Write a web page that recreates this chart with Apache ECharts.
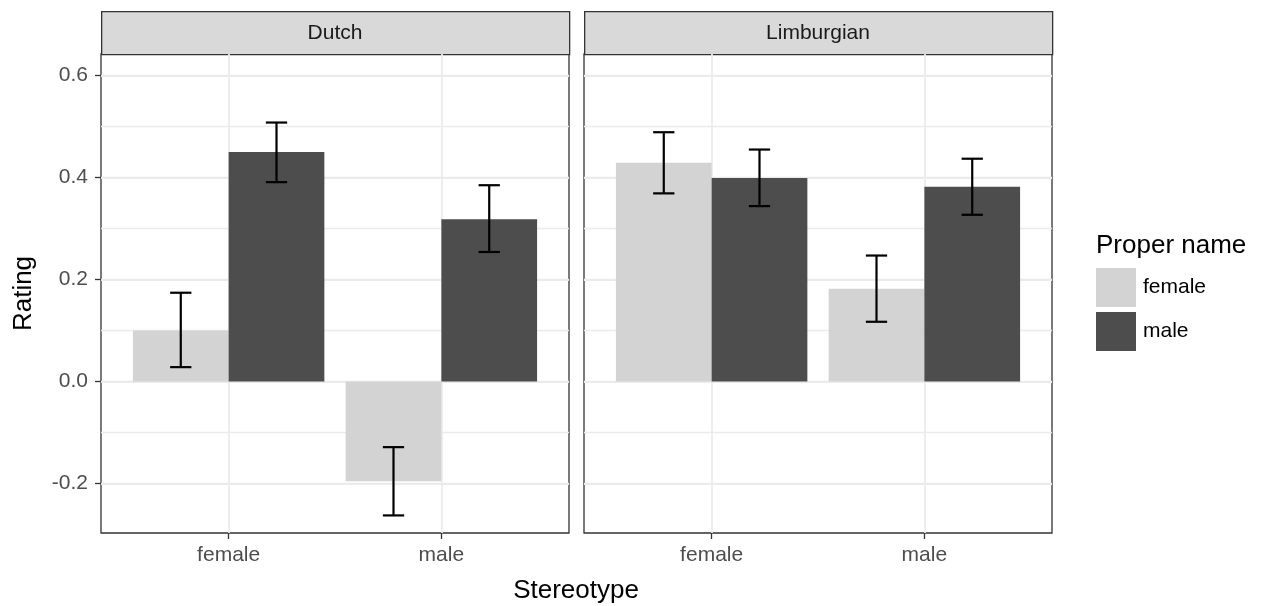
<!DOCTYPE html>
<html>
<head>
<meta charset="utf-8">
<script src="https://cdn.jsdelivr.net/npm/echarts@6/dist/echarts.min.js"></script>
<style>
  html, body { margin: 0; padding: 0; background: #fff; }
  #chart { width: 1263px; height: 606px; }
</style>
</head>
<body>
<div id="chart"></div>
<script>
const stereotypes = ['female', 'male'];
const dialects = ['Dutch', 'Limburgian'];
const nameGroups = ['female', 'male'];

// mean rating per stereotype (female, male)
const dutchFemaleName = [0.100, -0.196];
const dutchMaleName = [0.450, 0.318];
const limburgianFemaleName = [0.429, 0.182];
const limburgianMaleName = [0.399, 0.382];

// error bar ends
const dutchFemaleLow = [0.028, -0.263];
const dutchFemaleHigh = [0.174, -0.129];
const dutchMaleLow = [0.391, 0.254];
const dutchMaleHigh = [0.508, 0.385];
const limburgianFemaleLow = [0.369, 0.117];
const limburgianFemaleHigh = [0.489, 0.247];
const limburgianMaleLow = [0.344, 0.327];
const limburgianMaleHigh = [0.455, 0.437];

const yMajorTicks = [-0.2, 0, 0.2, 0.4, 0.6];
const yMinorTicks = [-0.1, 0.1, 0.3, 0.5];

const panels = [
  { means: [dutchFemaleName, dutchMaleName], lows: [dutchFemaleLow, dutchMaleLow], highs: [dutchFemaleHigh, dutchMaleHigh] },
  { means: [limburgianFemaleName, limburgianMaleName], lows: [limburgianFemaleLow, limburgianMaleLow], highs: [limburgianFemaleHigh, limburgianMaleHigh] }
];

const FONT = '"Liberation Sans", Arial, sans-serif';
const fills = ['#d3d3d3', '#4d4d4d'];
const panelLeft = [101, 584];
const panelWidth = 468;
const gridTop = 54;
const gridHeight = 479;
const DODGE = 0.9;
const CAP = 0.1;
const yMin = -0.2975;
const yMax = 0.6425;

const chart = echarts.init(document.getElementById('chart'));

function barRenderer(offset) {
  return function (params, api) {
    const x = api.value(0);
    const y = api.value(1);
    const a = api.coord([x + offset - DODGE / 4, y]);
    const b = api.coord([x + offset + DODGE / 4, 0]);
    return {
      type: 'rect',
      shape: { x: a[0], y: Math.min(a[1], b[1]), width: b[0] - a[0], height: Math.abs(b[1] - a[1]) },
      style: { fill: api.visual('color') }
    };
  };
}

function errRenderer(offset) {
  return function (params, api) {
    const x = api.value(0) + offset;
    const lo = api.value(1);
    const hi = api.value(2);
    const top = api.coord([x, hi]);
    const bot = api.coord([x, lo]);
    const l = api.coord([x - CAP / 2, hi])[0];
    const r = api.coord([x + CAP / 2, hi])[0];
    const style = { stroke: '#000', lineWidth: 2.2 };
    return {
      type: 'group',
      children: [
        { type: 'line', shape: { x1: top[0], y1: top[1], x2: bot[0], y2: bot[1] }, style },
        { type: 'line', shape: { x1: l, y1: top[1], x2: r, y2: top[1] }, style },
        { type: 'line', shape: { x1: l, y1: bot[1], x2: r, y2: bot[1] }, style }
      ]
    };
  };
}

const grids = [];
const xAxes = [];
const yAxes = [];
const series = [];
const graphics = [];

panels.forEach((panel, p) => {
  grids.push({
    left: panelLeft[p], top: gridTop, width: panelWidth, height: gridHeight,
    show: true, backgroundColor: '#fff', borderColor: '#333333', borderWidth: 1.3
  });
  xAxes.push({
    type: 'value', gridIndex: p, min: 0.4, max: 2.6, position: 'bottom',
    axisLine: { show: false, onZero: false },
    axisTick: { show: true, length: 6, customValues: [1, 2], lineStyle: { color: '#333333', width: 1.3 } },
    axisLabel: {
      customValues: [1, 2], margin: 12, color: '#4d4d4d', fontSize: 21, fontFamily: FONT,
      formatter: v => stereotypes[Math.round(v) - 1]
    },
    splitLine: { show: true, lineStyle: { color: '#ebebeb', width: 1.8 } }
  });
  // minor + major gridlines
  yAxes.push({
    type: 'value', gridIndex: p, min: yMin, max: yMax, position: 'left',
    axisLine: { show: false, onZero: false },
    axisTick: { show: false, customValues: yMinorTicks.concat(yMajorTicks) },
    axisLabel: { show: false, customValues: yMinorTicks.concat(yMajorTicks) },
    splitLine: { show: true, lineStyle: { color: '#ebebeb', width: 1.3 } }
  });
  // ticks and labels
  yAxes.push({
    type: 'value', gridIndex: p, min: yMin, max: yMax, position: 'left',
    name: p === 0 ? 'Rating' : '',
    nameLocation: 'middle', nameRotate: 90, nameGap: 64,
    nameTextStyle: { fontSize: 26, color: '#000', fontFamily: FONT },
    axisLine: { show: false, onZero: false },
    axisTick: { show: p === 0, length: 6, customValues: yMajorTicks, lineStyle: { color: '#333333', width: 1.3 } },
    axisLabel: {
      show: p === 0, customValues: yMajorTicks, margin: 13, color: '#4d4d4d', fontSize: 21, fontFamily: FONT,
      padding: [4, 0, 0, 0],
      formatter: v => v.toFixed(1)
    },
    splitLine: { show: true, lineStyle: { color: '#ebebeb', width: 1.8 } }
  });

  nameGroups.forEach((g, k) => {
    const offset = k === 0 ? -DODGE / 4 : DODGE / 4;
    series.push({
      type: 'custom', name: g, xAxisIndex: p, yAxisIndex: p * 2,
      itemStyle: { color: fills[k] },
      renderItem: barRenderer(offset),
      encode: { x: 0, y: 1 },
      data: stereotypes.map((s, i) => [i + 1, panel.means[k][i]])
    });
  });
  nameGroups.forEach((g, k) => {
    const offset = k === 0 ? -DODGE / 4 : DODGE / 4;
    series.push({
      type: 'custom', name: 'err-' + g, xAxisIndex: p, yAxisIndex: p * 2, z: 5,
      renderItem: errRenderer(offset),
      encode: { x: 0, y: [1, 2] },
      data: stereotypes.map((s, i) => [i + 1, panel.lows[k][i], panel.highs[k][i]])
    });
  });

  graphics.push({
    type: 'rect', left: panelLeft[p], top: 11,
    shape: { width: panelWidth, height: 43 },
    style: { fill: '#d9d9d9', stroke: '#333333', lineWidth: 1.3 }
  });
  graphics.push({
    type: 'text', x: panelLeft[p] + panelWidth / 2, y: 33,
    style: { text: dialects[p], fill: '#1a1a1a', font: '21px ' + FONT, textAlign: 'center', textVerticalAlign: 'middle' }
  });
});

chart.setOption({
  animation: false,
  textStyle: { fontFamily: FONT },
  title: [
    { text: 'Stereotype', left: 576, top: 578, textAlign: 'center', padding: 0,
      textStyle: { fontSize: 26, fontWeight: 'normal', color: '#000', fontFamily: FONT } },
    { text: 'Proper name', left: 1096, top: 233, padding: 0,
      textStyle: { fontSize: 26, fontWeight: 'normal', color: '#000', fontFamily: FONT } }
  ],
  legend: {
    data: nameGroups, orient: 'vertical', left: 1096, top: 268, padding: 0,
    itemWidth: 40, itemHeight: 39, itemGap: 5, icon: 'rect',
    textStyle: { fontSize: 21, color: '#000', fontFamily: FONT, padding: [0, 0, 0, 2] }
  },
  grid: grids,
  xAxis: xAxes,
  yAxis: yAxes,
  series: series,
  graphic: graphics
});
</script>
</body>
</html>
